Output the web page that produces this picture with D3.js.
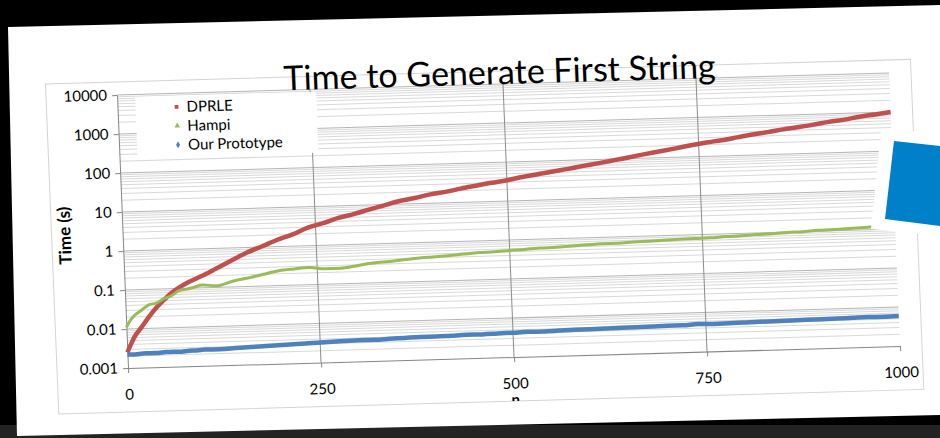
<!DOCTYPE html>
<html>
<head>
<meta charset="utf-8">
<script src="https://cdn.jsdelivr.net/npm/d3@7"></script>
<style>
  body { margin: 0; background: #000; }
  svg { display: block; }
  text { font-family: Lato, "Open Sans", sans-serif; }
</style>
</head>
<body>
<div id="chart"></div>
<script>
// n values the series were read at
var nValues = [0, 5, 10, 20, 30, 40, 50, 60, 70, 80, 90, 100,
  120, 140, 160, 180, 200, 220, 240, 260, 280, 300,
  320, 340, 360, 380, 400, 420, 440, 460, 480, 500,
  520, 540, 560, 580, 600, 620, 640, 660, 680, 700,
  720, 740, 760, 780, 800, 820, 840, 860, 880, 900,
  920, 940, 960, 980, 1000];

// seconds
var dprle = [0.0025, 0.004, 0.0062, 0.011, 0.02, 0.034, 0.052, 0.078, 0.105, 0.135, 0.165, 0.2,
  0.31, 0.48, 0.74, 1.05, 1.5, 2.0, 2.9, 3.7, 4.9, 6.0,
  7.6, 9.5, 12, 14, 16.8, 19, 22.5, 26, 30, 34,
  40, 46, 53, 60, 70, 80, 93, 108, 126, 145,
  168, 196, 225, 252, 290, 335, 375, 430, 480, 540,
  620, 690, 800, 890, 1000];

var hampi = [0.011, 0.016, 0.021, 0.029, 0.04, 0.044, 0.056, 0.066, 0.088, 0.095, 0.105, 0.118,
  0.11, 0.14, 0.165, 0.2, 0.24, 0.26, 0.275, 0.25, 0.25, 0.28,
  0.32, 0.34, 0.37, 0.4, 0.42, 0.44, 0.47, 0.5, 0.51, 0.54,
  0.56, 0.59, 0.6, 0.63, 0.66, 0.69, 0.69, 0.72, 0.74, 0.76,
  0.78, 0.8, 0.81, 0.85, 0.87, 0.91, 0.93, 0.98, 1.0, 1.05,
  1.07, 1.12, 1.15, 1.2, 1.26];

var prototype = [0.0022, 0.0022, 0.0022, 0.0023, 0.0023, 0.0023, 0.0024, 0.0024, 0.0024, 0.0025, 0.0025, 0.0026,
  0.0026, 0.0027, 0.0028, 0.0029, 0.003, 0.0031, 0.0032, 0.0033, 0.0034, 0.0035,
  0.0035, 0.0036, 0.0037, 0.0038, 0.0038, 0.0039, 0.004, 0.004, 0.0041, 0.0042,
  0.0043, 0.0043, 0.0044, 0.0045, 0.0045, 0.0046, 0.0047, 0.0047, 0.0048, 0.0049,
  0.0049, 0.0051, 0.005, 0.0051, 0.0052, 0.0053, 0.0053, 0.0054, 0.0055, 0.0055,
  0.0056, 0.0057, 0.0058, 0.0058, 0.0059];

var seriesNames = ["DPRLE", "Hampi", "Our Prototype"];
var xTicks = [0, 250, 500, 750, 1000];
var xTickLabels = ["0", "250", "500", "750", "1000"];
var xGridTicks = [250, 500, 750];
var yTicks = [0.001, 0.01, 0.1, 1, 10, 100, 1000, 10000];
var yTickLabels = ["0.001", "0.01", "0.1", "1", "10", "100", "1000", "10000"];
var chartTitle = "Time to Generate First String";

var svgWidth = 940;
var svgHeight = 438;
var width = 772;
var height = 273;

var svg = d3.select("#chart")
  .append("svg")
  .attr("width", svgWidth)
  .attr("height", svgHeight);

// backdrop around the photographed sheet
svg.append("rect").attr("width", svgWidth).attr("height", svgHeight).attr("fill", "#000");
svg.append("rect").attr("x", 0).attr("y", 425).attr("width", svgWidth).attr("height", 13).attr("fill", "#232323");
svg.append("polygon").attr("points", "8,27 940,5 940,415 17,436").attr("fill", "#fff");

// chart is drawn flat, then tilted like the photo
var chartGroup = svg.append("g")
  .attr("transform", "translate(117,95) matrix(1,-0.0285,0.0403,1,0,0)");

chartGroup.append("clipPath").attr("id", "areaClip")
  .append("rect").attr("x", -71).attr("y", -13).attr("width", 865).attr("height", 330);

chartGroup.append("rect")
  .attr("x", -71).attr("y", -13).attr("width", 865).attr("height", 330)
  .attr("fill", "#fff").attr("stroke", "#d4d4d4");

var xScale = d3.scaleLinear().domain([0, 1000]).range([0, width]);
var yScale = d3.scaleLog().domain([0.001, 10000]).range([height, 0]);

// minor gridlines 2..9 inside each decade
var minorTicks = [];
yTicks.slice(0, -1).forEach(function(d) {
  for (var k = 2; k <= 9; k++) minorTicks.push(d * k);
});

chartGroup.selectAll(".minor").data(minorTicks).enter().append("line")
  .attr("x1", 0).attr("x2", width)
  .attr("y1", d => yScale(d)).attr("y2", d => yScale(d))
  .attr("stroke", "#d9d9d9").attr("stroke-width", 1);

chartGroup.selectAll(".major").data(yTicks.slice(1)).enter().append("line")
  .attr("x1", 0).attr("x2", width)
  .attr("y1", d => yScale(d)).attr("y2", d => yScale(d))
  .attr("stroke", "#b5b5b5").attr("stroke-width", 1);

chartGroup.selectAll(".vgrid").data(xGridTicks).enter().append("line")
  .attr("x1", d => xScale(d)).attr("x2", d => xScale(d))
  .attr("y1", 0).attr("y2", height)
  .attr("stroke", "#8c8c8c").attr("stroke-width", 1);

// axes
var leftAxis = d3.axisLeft(yScale)
  .tickValues(yTicks)
  .tickFormat((d, i) => yTickLabels[i])
  .tickSize(5).tickSizeOuter(0).tickPadding(5);

var bottomAxis = d3.axisBottom(xScale)
  .tickValues(xTicks)
  .tickFormat((d, i) => xTickLabels[i])
  .tickSize(5).tickSizeOuter(0).tickPadding(16);

chartGroup.append("g").attr("class", "axis").call(leftAxis);
chartGroup.append("g").attr("class", "axis")
  .attr("transform", `translate(0, ${height})`)
  .call(bottomAxis);

chartGroup.selectAll(".axis path, .axis line").attr("stroke", "#868686");
chartGroup.selectAll(".axis text")
  .attr("font-family", "Lato, 'Open Sans', sans-serif")
  .attr("font-size", "15px").attr("fill", "#000");

// series
var line = d3.line()
  .x((d, i) => xScale(nValues[i]))
  .y(d => yScale(d))
  .curve(d3.curveMonotoneX);

var series = [
  { name: seriesNames[0], values: dprle, color: "#c0504d", w: 4.5, symbol: d3.symbolSquare },
  { name: seriesNames[1], values: hampi, color: "#9bbb59", w: 3, symbol: d3.symbolTriangle },
  { name: seriesNames[2], values: prototype, color: "#4f81bd", w: 4.5, symbol: d3.symbolDiamond }
];

chartGroup.selectAll(".series").data(series).enter().append("path")
  .attr("d", d => line(d.values))
  .attr("fill", "none")
  .attr("stroke", d => d.color)
  .attr("stroke-width", d => d.w)
  .attr("stroke-linejoin", "round");

// legend
var legend = chartGroup.append("g").attr("transform", "translate(18, 2.5)");
legend.append("rect").attr("width", 181).attr("height", 61).attr("fill", "#fff");

var legendRows = legend.selectAll(".row").data(series).enter().append("g")
  .attr("transform", (d, i) => `translate(41, ${11 + i * 19})`);

legendRows.append("path")
  .attr("d", d => d3.symbol().type(d.symbol).size(14)())
  .attr("fill", d => d.color);

legendRows.append("text")
  .attr("x", 10).attr("dy", "0.35em")
  .attr("font-size", "15px").attr("fill", "#000")
  .text(d => d.name);

// titles
chartGroup.append("text")
  .attr("x", 383).attr("y", 0)
  .attr("text-anchor", "middle")
  .attr("font-size", "34px").attr("fill", "#000")
  .text(chartTitle);

chartGroup.append("text")
  .attr("transform", "translate(-52, 139) rotate(-90)")
  .attr("text-anchor", "middle")
  .attr("font-size", "17px").attr("font-weight", "bold").attr("fill", "#000")
  .text("Time (s)");

chartGroup.append("g").attr("clip-path", "url(#areaClip)")
  .append("text")
  .attr("x", xScale(500)).attr("y", height + 48)
  .attr("text-anchor", "middle")
  .attr("font-size", "15px").attr("font-weight", "bold").attr("fill", "#000")
  .text("n");

// blue slide tile with its white frame
svg.append("polygon").attr("points", "881,130 940,133 940,236 871,229").attr("fill", "#fff");
svg.append("polygon").attr("points", "894,141 940,146 940,226 885,219").attr("fill", "#0080c8");
</script>
</body>
</html>
